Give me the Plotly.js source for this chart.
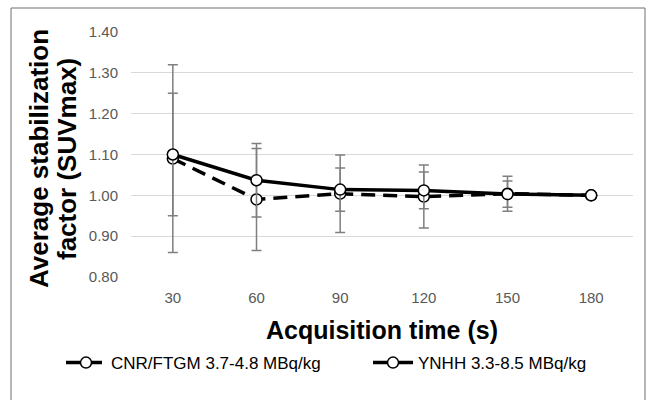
<!DOCTYPE html>
<html>
<head>
<meta charset="utf-8">
<script src="https://cdn.plot.ly/plotly-3.0.1.min.js"></script>
<style>html,body{margin:0;padding:0;background:#fff;}#chart{width:650px;height:400px;}</style>
</head>
<body>
<div id="chart"></div>
<script>
const times = ['30', '60', '90', '120', '150', '180'];
const cnrValues = [1.090, 0.990, 1.004, 0.997, 1.004, 1.000];
const cnrErrors = [0.230, 0.125, 0.095, 0.077, 0.043, 0];
const ynhhValues = [1.100, 1.037, 1.014, 1.012, 1.003, 1.000];
const ynhhErrors = [0.150, 0.090, 0.053, 0.045, 0.032, 0];
const cnrName = 'CNR/FTGM 3.7-4.8 MBq/kg';
const ynhhName = 'YNHH 3.3-8.5 MBq/kg';
const yTickVals = [0.8, 0.9, 1.0, 1.1, 1.2, 1.3, 1.4];
const xTitle = 'Acquisition time (s)';
const yTitleLines = ['Average stabilization', 'factor (SUVmax)'];

const marker = {symbol: 'circle', size: 11, color: '#ffffff', line: {color: '#000000', width: 1.5}};
const errStyle = {type: 'data', visible: true, color: '#7f7f7f', thickness: 1.5, width: 5};

const traces = [
  {
    x: times, y: cnrValues, name: cnrName, type: 'scatter', mode: 'lines+markers', legend: 'legend',
    line: {color: '#000000', width: 3.5, dash: '14px,8px'},
    marker: marker,
    error_y: Object.assign({array: cnrErrors}, errStyle)
  },
  {
    x: times, y: ynhhValues, name: ynhhName, type: 'scatter', mode: 'lines+markers', legend: 'legend2',
    line: {color: '#000000', width: 3.5},
    marker: marker,
    error_y: Object.assign({array: ynhhErrors}, errStyle)
  }
];

const L = 131, R = 17, T = 32, B = 123;
const W = 650 - L - R, H = 400 - T - B;
const px = v => (v - L) / W;
const py = v => (400 - B - v) / H;
const FAM = 'Liberation Sans, Arial, sans-serif';
const legendBase = {
  orientation: 'h', xanchor: 'left', y: py(363), yanchor: 'middle',
  font: {size: 17, color: '#000000', family: FAM}, itemwidth: 40,
  bgcolor: 'rgba(0,0,0,0)'
};

const layout = {
  width: 650, height: 400,
  margin: {l: L, r: R, t: T, b: B, pad: 0},
  paper_bgcolor: '#ffffff', plot_bgcolor: '#ffffff',
  font: {family: FAM, color: '#595959', size: 15},
  showlegend: true,
  legend: Object.assign({x: px(61)}, legendBase),
  legend2: Object.assign({x: px(368)}, legendBase),
  xaxis: {
    type: 'category', range: [-0.5, 5.5], showgrid: false, zeroline: false, showline: false,
    ticks: '', tickfont: {size: 15, color: '#595959'}, ticklabelstandoff: 10
  },
  yaxis: {
    range: [0.8, 1.4], tickvals: yTickVals, tickformat: '.2f', showgrid: true, gridcolor: '#d9d9d9', gridwidth: 1,
    zeroline: false, showline: false, ticks: '', tickfont: {size: 15, color: '#595959'}, ticklabelstandoff: 12
  },
  annotations: [
    {text: xTitle, xref: 'paper', yref: 'paper', x: 0.5, y: py(330), xanchor: 'center', yanchor: 'middle',
     showarrow: false, font: {size: 25, color: '#000000', family: FAM, weight: 'bold'}},
    {text: yTitleLines[0], xref: 'paper', yref: 'paper', x: px(39), y: py(159), xanchor: 'center', yanchor: 'middle',
     textangle: -90, showarrow: false, font: {size: 26, color: '#000000', family: FAM, weight: 'bold'}},
    {text: yTitleLines[1], xref: 'paper', yref: 'paper', x: px(67), y: py(159), xanchor: 'center', yanchor: 'middle',
     textangle: -90, showarrow: false, font: {size: 26, color: '#000000', family: FAM, weight: 'bold'}}
  ],
  shapes: [
    {type: 'rect', xref: 'paper', yref: 'paper', x0: px(11), x1: px(645), y0: py(402), y1: py(8),
     line: {color: '#6e6e6e', width: 1}, fillcolor: 'rgba(0,0,0,0)', layer: 'below'}
  ]
};

Plotly.newPlot('chart', traces, layout, {staticPlot: true, displayModeBar: false});
</script>
</body>
</html>
